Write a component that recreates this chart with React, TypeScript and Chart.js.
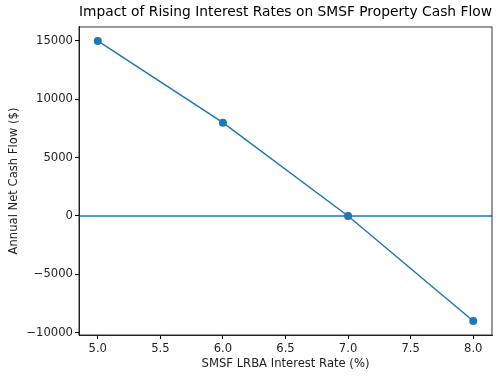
import React, { useEffect, useRef } from "react";
import { Chart, registerables } from "chart.js";

Chart.register(...registerables);

const rates = [5.0, 6.0, 7.0, 8.0];
const cashFlow = [15000, 8000, 0, -9000];
const xTicks = [5.0, 5.5, 6.0, 6.5, 7.0, 7.5, 8.0];
const yTicks = [-10000, -5000, 0, 5000, 10000, 15000];
const xLimits = [4.85, 8.15];
const yLimits = [-10200, 16200];
const zeroLine = [0, 0];

const FONT = "'DejaVu Sans', sans-serif";
const BLUE = "#1f77b4";

const frame = {
  id: "frame",
  afterDraw(chart: any) {
    const { ctx, chartArea: a } = chart;
    ctx.save();
    ctx.strokeStyle = "#000";
    ctx.lineWidth = 0.8;
    ctx.strokeRect(a.left, a.top, a.right - a.left, a.bottom - a.top);
    ctx.restore();
  },
};

export default function App() {
  const ref = useRef<HTMLCanvasElement>(null);
  useEffect(() => {
    const chart = new Chart(ref.current!, {
      type: "line",
      data: {
        datasets: [
          {
            data: rates.map((r, i) => ({ x: r, y: cashFlow[i] })),
            borderColor: BLUE,
            backgroundColor: BLUE,
            borderWidth: 1.5,
            pointRadius: 4,
            pointBackgroundColor: BLUE,
            pointBorderWidth: 0,
            tension: 0,
          },
          {
            data: xLimits.map((x, i) => ({ x, y: zeroLine[i] })),
            borderColor: BLUE,
            borderWidth: 1.5,
            pointRadius: 0,
          },
        ],
      },
      plugins: [frame],
      options: {
        animation: false,
        responsive: false,
        layout: { padding: { left: 0, right: 8, top: 0, bottom: 0 } },
        plugins: {
          legend: { display: false },
          tooltip: { enabled: false },
          title: {
            display: true,
            fullSize: false,
            text: "Impact of Rising Interest Rates on SMSF Property Cash Flow",
            color: "#000",
            font: { family: FONT, size: 13.9, weight: "normal" },
            padding: { top: 4, bottom: 6.3 },
          },
        },
        scales: {
          x: {
            type: "linear",
            min: xLimits[0],
            max: xLimits[1],
            afterBuildTicks: (s: any) => {
              s.ticks = xTicks.map((v) => ({ value: v }));
            },
            afterFit: (s: any) => {
              s.height = 44;
            },
            ticks: {
              color: "#222",
              font: { family: FONT, size: 11.6 },
              padding: 3,
              maxRotation: 0,
              callback: (v: any) => Number(v).toFixed(1),
            },
            grid: {
              drawOnChartArea: false,
              drawTicks: true,
              tickLength: 4,
              tickColor: "#000",
            },
            border: { color: "#000", width: 0.8 },
            title: {
              display: true,
              text: "SMSF LRBA Interest Rate (%)",
              color: "#222",
              font: { family: FONT, size: 11.6 },
              padding: { top: 2, bottom: 8 },
            },
          },
          y: {
            type: "linear",
            min: yLimits[0],
            max: yLimits[1],
            afterBuildTicks: (s: any) => {
              s.ticks = yTicks.map((v) => ({ value: v }));
            },
            afterFit: (s: any) => {
              s.width = 79;
            },
            ticks: {
              color: "#222",
              font: { family: FONT, size: 11.6 },
              padding: 2,
              callback: (v: any) => String(v).replace("-", "\u2212"),
            },
            grid: {
              drawOnChartArea: false,
              drawTicks: true,
              tickLength: 4,
              tickColor: "#000",
            },
            border: { color: "#000", width: 0.8 },
            title: {
              display: true,
              text: "Annual Net Cash Flow ($)",
              color: "#222",
              font: { family: FONT, size: 11.6 },
              padding: { top: 7, bottom: 2 },
            },
          },
        },
      },
    } as any);
    return () => chart.destroy();
  }, []);
  return (
    <div style={{ position: "fixed", left: 0, top: 0, width: 500, height: 379, background: "#fff" }}>
      <canvas ref={ref} width={500} height={379} style={{ display: "block", width: 500, height: 379 }} />
    </div>
  );
}
